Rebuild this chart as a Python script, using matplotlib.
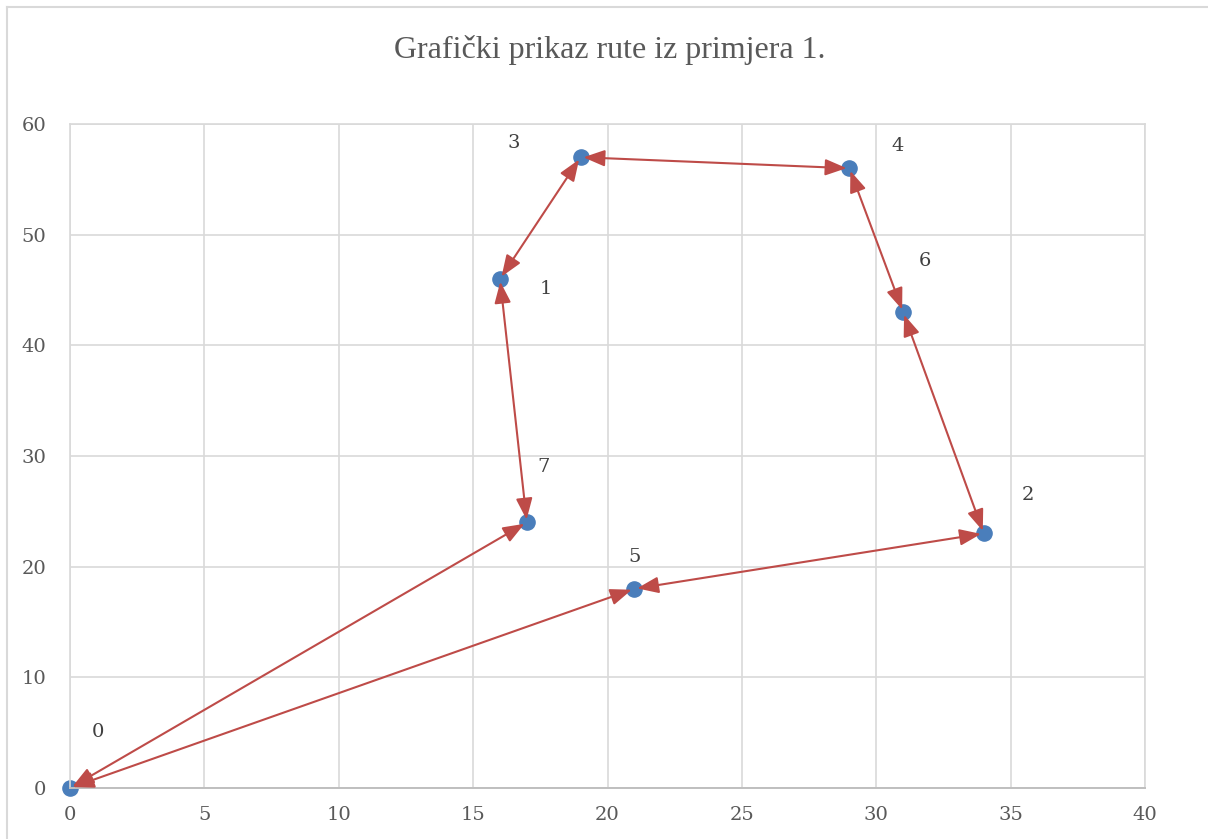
import matplotlib
matplotlib.use('Agg')
import matplotlib.pyplot as plt
from matplotlib.lines import Line2D

plt.rcParams['font.family'] = ['DejaVu Serif']

# cvorovi i ruta
labels = ['0', '1', '2', '3', '4', '5', '6', '7']
x = [0, 16, 34, 19, 29, 21, 31, 17]
y = [0, 46, 23, 57, 56, 18, 43, 24]
route = [0, 7, 1, 3, 4, 6, 2, 5, 0]

# pomaci oznaka (u tockama)
lab_off = {0: (20, 40), 1: (33, -7), 2: (32, 28), 3: (-48, 10),
           4: (35, 16), 5: (0, 23), 6: (16, 37), 7: (12, 40)}

fig = plt.figure(figsize=(12.08, 8.39), dpi=100)
ax = fig.add_axes([70/1208, 1 - 788/839, (1145-70)/1208, (788-124)/839])

grid_c = '#d9d9d9'
ax.set_xlim(0, 40)
ax.set_ylim(0, 60)
ax.set_xticks(range(0, 41, 5))
ax.set_yticks(range(0, 61, 10))
ax.grid(True, color=grid_c, lw=1.2)
ax.set_axisbelow(True)
for s in ['top', 'right', 'left']:
    ax.spines[s].set_color(grid_c)
    ax.spines[s].set_linewidth(1.2)
ax.spines['bottom'].set_color('#bfbfbf')
ax.spines['bottom'].set_linewidth(1.4)
ax.tick_params(length=0, labelsize=14, colors='#595959', pad=13)
ax.tick_params(axis='y', pad=17)

arrow_c = '#be4b48'
for a, b in zip(route[:-1], route[1:]):
    ax.annotate('', xy=(x[b], y[b]), xytext=(x[a], y[a]),
                arrowprops=dict(arrowstyle='<|-|>,head_length=1.3,head_width=0.5',
                                color=arrow_c, lw=1.5, shrinkA=2, shrinkB=2),
                zorder=3)

ax.scatter(x, y, s=120, color='#4a7ebb', zorder=2, clip_on=False)

for i, lab in enumerate(labels):
    ax.annotate(lab, (x[i], y[i]), xytext=lab_off[i], textcoords='offset points',
                ha='center', va='center', fontsize=14, color='#404040')

fig.text(610/1208, 1 - 50/839, 'Grafički prikaz rute iz primjera 1.',
         ha='center', va='center', fontsize=23, color='#595959',
         family='Liberation Serif')

# okvir grafikona
fig.add_artist(Line2D([7/1208, 7/1208], [0, 1 - 7/839], color=grid_c, lw=1.5))
fig.add_artist(Line2D([7/1208, 1], [1 - 7/839, 1 - 7/839], color=grid_c, lw=1.5))

fig.savefig('out.png', dpi=100)
